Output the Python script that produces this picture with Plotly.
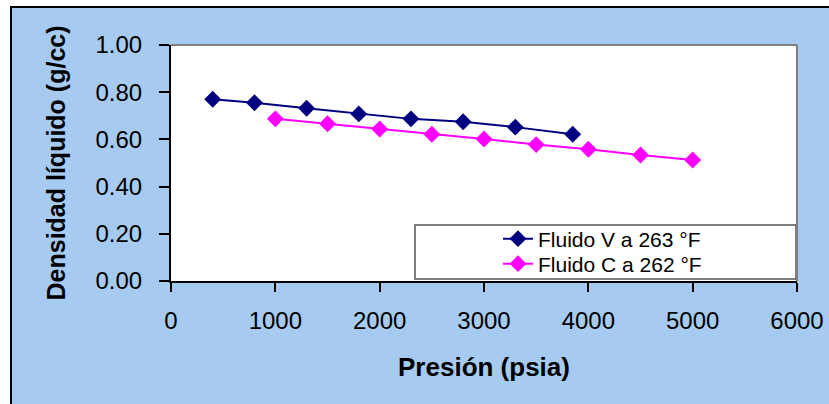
import plotly.graph_objects as go

# Data
presion_v = [400, 800, 1300, 1800, 2300, 2800, 3300, 3850]
densidad_v = [0.770, 0.755, 0.732, 0.708, 0.687, 0.675, 0.652, 0.622]
presion_c = [1000, 1500, 2000, 2500, 3000, 3500, 4000, 4500, 5000]
densidad_c = [0.687, 0.666, 0.644, 0.622, 0.602, 0.578, 0.558, 0.534, 0.513]
nombre_v = "Fluido V a 263 °F"
nombre_c = "Fluido C a 262 °F"
x_ticks = [0, 1000, 2000, 3000, 4000, 5000, 6000]
y_ticks = [0.0, 0.2, 0.4, 0.6, 0.8, 1.0]

FONT = "Liberation Sans, Arial, sans-serif"
BLUE_BG = "#A6CAF0"

W, H = 829, 404
ML, MR, MT, MB = 171, 32, 45, 123
PW, PH = W - ML - MR, H - MT - MB

def px_x(p):
    return (p - ML) / PW

def px_y(p):
    return (H - MB - p) / PH

fig = go.Figure()
fig.add_trace(go.Scatter(
    x=presion_v, y=densidad_v, name=nombre_v, mode="lines+markers",
    line=dict(color="#000080", width=2),
    marker=dict(symbol="diamond", size=13, color="#000080"),
    legend="legend",
))
fig.add_trace(go.Scatter(
    x=presion_c, y=densidad_c, name=nombre_c, mode="lines+markers",
    line=dict(color="#FF00FF", width=2),
    marker=dict(symbol="diamond", size=13, color="#FF00FF"),
    legend="legend2",
))

shapes = [
    # outer blue frame
    dict(type="rect", xref="paper", yref="paper", layer="below",
         x0=px_x(11), x1=px_x(860), y0=px_y(440), y1=px_y(7),
         fillcolor=BLUE_BG, line=dict(color="black", width=2)),
    # white plot area
    dict(type="rect", xref="paper", yref="paper", layer="below",
         x0=0, x1=1, y0=0, y1=1, fillcolor="white", line=dict(width=0)),
    # grey top/right border
    dict(type="line", xref="paper", yref="paper", layer="above",
         x0=0, x1=1, y0=1, y1=1, line=dict(color="#808080", width=2)),
    dict(type="line", xref="paper", yref="paper", layer="above",
         x0=1, x1=1, y0=0, y1=1, line=dict(color="#808080", width=2)),
    # legend box
    dict(type="rect", xref="paper", yref="paper", layer="below",
         x0=px_x(415), x1=px_x(796), y0=px_y(279), y1=px_y(225),
         fillcolor="white", line=dict(color="#555555", width=1.5)),
]

leg_common = dict(bgcolor="rgba(0,0,0,0)", borderwidth=0,
                  font=dict(family=FONT, size=21, color="black"),
                  xanchor="left", yanchor="middle", x=px_x(498))

fig.update_layout(
    width=W, height=H,
    margin=dict(l=ML, r=MR, t=MT, b=MB, autoexpand=False),
    paper_bgcolor="white", plot_bgcolor="white",
    font=dict(family=FONT, color="black"),
    shapes=shapes,
    showlegend=True,
    legend=dict(y=px_y(239), **leg_common),
    legend2=dict(y=px_y(264), **leg_common),
    xaxis=dict(
        range=[0, 6000], tickvals=x_ticks, ticktext=[str(v) for v in x_ticks],
        showgrid=False, zeroline=False,
        showline=True, linecolor="black", linewidth=2,
        ticks="outside", ticklen=9, tickwidth=1.5, tickcolor="black",
        tickfont=dict(family=FONT, size=24, color="black"),
        ticklabelstandoff=8,
        title=dict(text="<b>Presión (psia)</b>", standoff=25,
                   font=dict(family=FONT, size=26, color="black")),
        automargin=False,
    ),
    yaxis=dict(
        range=[0, 1], tickvals=y_ticks, tickformat=".2f",
        showgrid=False, zeroline=False,
        showline=True, linecolor="black", linewidth=2,
        ticks="outside", ticklen=10, tickwidth=1.5, tickcolor="black",
        tickfont=dict(family=FONT, size=24, color="black"),
        ticklabelstandoff=12,
        title=dict(text="<b>Densidad líquido (g/cc)</b>", standoff=23,
                   font=dict(family=FONT, size=25, color="black")),
        automargin=False,
    ),
)

fig.write_html("out.html")
